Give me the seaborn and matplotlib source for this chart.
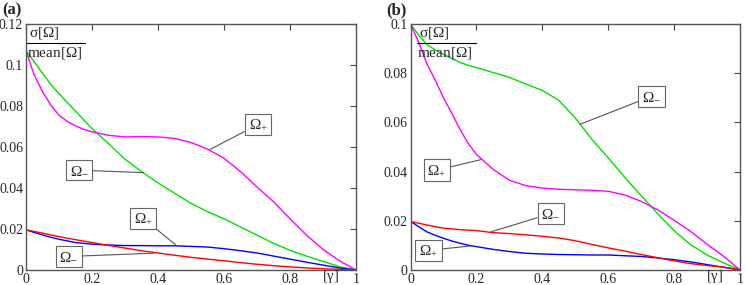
import pandas as pd
import seaborn as sns
import matplotlib.pyplot as plt
from matplotlib.lines import Line2D

# valeurs (grille commune en gamma)
gamma = [0, 0.025, 0.05, 0.075, 0.1, 0.125, 0.15, 0.175, 0.2, 0.25, 0.3, 0.35, 0.4,
         0.45, 0.5, 0.55, 0.6, 0.65, 0.7, 0.75, 0.8, 0.85, 0.9, 0.95, 1.0]

# (a)
a_green = [0.107, 0.1015, 0.096, 0.0905, 0.086, 0.0817, 0.0775, 0.0732, 0.069, 0.0617, 0.054,
           0.048, 0.0425, 0.0375, 0.0325, 0.0285, 0.025, 0.021, 0.017, 0.013, 0.0096, 0.0068,
           0.0042, 0.0016, 0.0]
a_magenta = [0.107, 0.095, 0.087, 0.0805, 0.0755, 0.0725, 0.0703, 0.0686, 0.0674, 0.0657,
             0.0649, 0.0651, 0.0649, 0.0642, 0.0622, 0.059, 0.0545, 0.048, 0.0405, 0.0333,
             0.025, 0.017, 0.010, 0.0045, 0.0]
a_blue = [0.0196, 0.0183, 0.0171, 0.016, 0.015, 0.0142, 0.0134, 0.013, 0.0126, 0.0122, 0.0119,
          0.0119, 0.0118, 0.0118, 0.0115, 0.0112, 0.0104, 0.0094, 0.0083, 0.0068, 0.0053,
          0.0038, 0.0024, 0.001, 0.0]
a_red = [0.0196, 0.0188, 0.018, 0.0171, 0.0163, 0.0155, 0.0148, 0.0141, 0.0134, 0.012, 0.0107,
         0.0094, 0.0083, 0.0072, 0.0062, 0.0053, 0.0045, 0.0036, 0.0028, 0.0021, 0.0015,
         0.001, 0.0006, 0.0003, 0.0]

# (b)
b_green = [0.100, 0.0955, 0.0916, 0.0895, 0.0877, 0.086, 0.0844, 0.0832, 0.0823, 0.0803,
           0.0783, 0.0756, 0.073, 0.069, 0.0618, 0.0532, 0.0456, 0.0377, 0.0302, 0.0229,
           0.016, 0.0103, 0.0061, 0.0029, 0.0]
b_magenta = [0.100, 0.0925, 0.0838, 0.0772, 0.070, 0.0638, 0.0572, 0.0515, 0.047, 0.041,
             0.0365, 0.0343, 0.0333, 0.0328, 0.0326, 0.0324, 0.032, 0.0305, 0.0279, 0.0245,
             0.0202, 0.0157, 0.0105, 0.0056, 0.0]
b_blue = [0.0198, 0.0176, 0.0155, 0.0141, 0.0129, 0.0118, 0.0109, 0.0101, 0.0095, 0.0084,
          0.0075, 0.0068, 0.0065, 0.0063, 0.0062, 0.0061, 0.0061, 0.0058, 0.0055, 0.0049,
          0.0042, 0.0033, 0.0022, 0.0011, 0.0]
b_red = [0.0197, 0.019, 0.0183, 0.0176, 0.017, 0.0167, 0.0164, 0.0162, 0.016, 0.0152, 0.0148,
         0.0143, 0.0137, 0.013, 0.0119, 0.0104, 0.009, 0.0077, 0.0063, 0.005, 0.0037, 0.0026,
         0.0018, 0.0012, 0.0]

x_ticks = [0, 0.2, 0.4, 0.6, 0.8, 1]
x_labels = ["0", "0.2", "0.4", "0.6", "0.8", "1"]
a_yticks = [0, 0.02, 0.04, 0.06, 0.08, 0.1, 0.12]
a_ylabels = ["0", "0.02", "0.04", "0.06", "0.08", "0.1", "0.12"]
b_yticks = [0, 0.02, 0.04, 0.06, 0.08, 0.1]
b_ylabels = ["0", "0.02", "0.04", "0.06", "0.08", "0.1"]

# annotations : (texte, point sur la courbe, position de la boite)
a_notes = [(r"$\Omega_{+}$", (0.558, 0.0588), (0.703, 0.071)),
           (r"$\Omega_{-}$", (0.355, 0.0475), (0.161, 0.0487)),
           (r"$\Omega_{+}$", (0.457, 0.0118), (0.355, 0.0252)),
           (r"$\Omega_{-}$", (0.386, 0.0082), (0.130, 0.0066))]
b_notes = [(r"$\Omega_{-}$", (0.514, 0.0592), (0.731, 0.0706)),
           (r"$\Omega_{+}$", (0.215, 0.0449), (0.080, 0.0406)),
           (r"$\Omega_{-}$", (0.246, 0.0156), (0.426, 0.0229)),
           (r"$\Omega_{+}$", (0.185, 0.0098), (0.054, 0.0080))]

sns.set_style("white")
plt.rcParams['font.family'] = ['Liberation Serif', 'DejaVu Serif']
plt.rcParams['mathtext.fontset'] = 'custom'
plt.rcParams['mathtext.rm'] = 'Liberation Serif'
plt.rcParams['mathtext.it'] = 'Liberation Serif'
plt.rcParams['mathtext.bf'] = 'Liberation Serif:bold'

colors = {"green": "#00e000", "magenta": "#ff00ff", "blue": "#0000ff", "red": "#ff0000"}

fig = plt.figure(figsize=(7.46, 2.85), dpi=100)
ax_a = fig.add_axes([26 / 746, 15 / 285, 330 / 746, 246 / 285])
ax_b = fig.add_axes([410.5 / 746, 15 / 285, 329.5 / 746, 246 / 285])


def draw_panel(ax, series, ymax, yticks, ylabels, notes, letter, fx):
    df = pd.DataFrame({"gamma": gamma, **series})
    df = df.melt(id_vars="gamma", var_name="courbe", value_name="val")
    sns.lineplot(data=df, x="gamma", y="val", hue="courbe", palette=colors,
                 linewidth=1.0, legend=False, ax=ax)
    ax.set_xlim(0, 1)
    ax.set_ylim(0, ymax)
    ax.set_xlabel("")
    ax.set_ylabel("")
    ax.set_xticks(x_ticks)
    ax.set_xticklabels(x_labels)
    ax.set_yticks(yticks)
    ax.set_yticklabels(ylabels)
    ax.tick_params(direction="in", length=4, width=0.8, color="#444444",
                   top=True, right=True, labelsize=10, pad=2)
    for s in ax.spines.values():
        s.set_color("#555555")
        s.set_linewidth(1.0)
    ax.text(0.924, -0.026, r"[$\gamma$]", transform=ax.transAxes, ha="center", va="center",
            fontsize=10.5)
    # fraction en haut a gauche
    ax.text(fx + 0.008, 0.932, r"$\sigma$[$\Omega$]", transform=ax.transAxes, ha="left",
            va="bottom", fontsize=11)
    ax.add_line(Line2D([fx + 0.002, fx + 0.18], [0.924, 0.924], transform=ax.transAxes,
                       color="black", lw=0.8))
    ax.text(fx + 0.002, 0.915, r"mean[$\Omega$]", transform=ax.transAxes, ha="left",
            va="top", fontsize=11)
    for txt, xy, xyt in notes:
        ax.annotate(txt, xy=xy, xytext=xyt, ha="center", va="center", fontsize=11,
                    bbox=dict(boxstyle="square,pad=0.25", fc="white", ec="#666666", lw=0.8),
                    arrowprops=dict(arrowstyle="-", color="#555555", lw=0.8,
                                    shrinkA=0, shrinkB=0))
    fig.text(ax.get_position().x0 - 24 / 746, 0.962, letter, fontweight="bold",
             fontsize=12, ha="left", va="center")


draw_panel(ax_a, {"green": a_green, "magenta": a_magenta, "blue": a_blue, "red": a_red},
           0.12, a_yticks, a_ylabels, a_notes, "(a)", 0.0)
draw_panel(ax_b, {"green": b_green, "magenta": b_magenta, "blue": b_blue, "red": b_red},
           0.1, b_yticks, b_ylabels, b_notes, "(b)", 0.018)

fig.savefig("out.png", dpi=100)
